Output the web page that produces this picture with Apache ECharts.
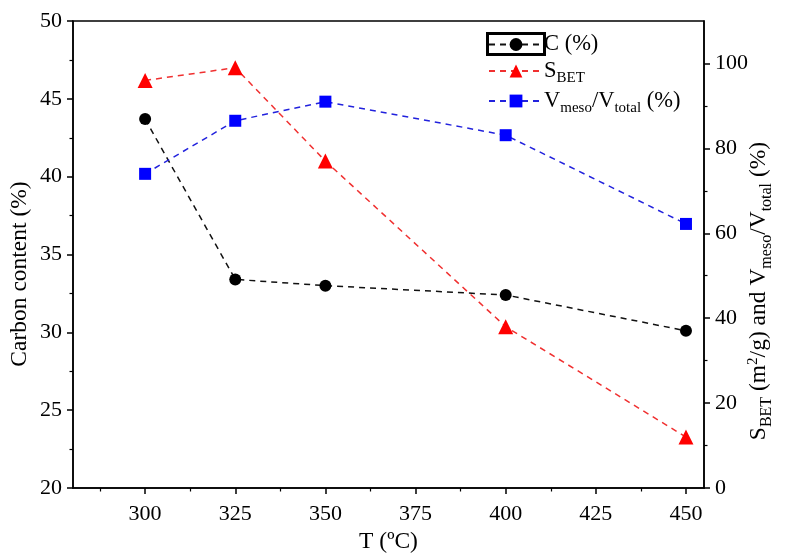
<!DOCTYPE html>
<html>
<head>
<meta charset="utf-8">
<script src="https://cdn.jsdelivr.net/npm/echarts@6/dist/echarts.min.js"></script>
<style>html,body{margin:0;padding:0;background:#fff}#c{width:785px;height:553px}</style>
</head>
<body>
<div id="c"></div>
<script>
const temps = [300, 325, 350, 400, 450];
const carbonContent = [43.7, 33.4, 33.0, 32.4, 30.1];
const sBET = [96, 99, 77, 38, 12];
const vMesoRatio = [74, 86.5, 91, 83.1, 62.2];
const xMajorTicks = [300, 325, 350, 375, 400, 425, 450];
const xMinorTicks = [287.5, 312.5, 337.5, 362.5, 387.5, 412.5, 437.5];
const rightMajorTicks = [0, 20, 40, 60, 80, 100];
const rightMinorTicks = [10, 30, 50, 70, 90];

const FONT = "'Liberation Serif', 'Times New Roman', serif";
const FS = 22;
const TFS = 23.5;
function makeRich(base, sub, lh) {
  return {
    n: {fontFamily: FONT, fontSize: base, color: '#000', lineHeight: lh},
    sub: {fontFamily: FONT, fontSize: sub, color: '#000', lineHeight: lh, padding: [Math.round(base * 0.68), 0, 0, 0]},
    sup: {fontFamily: FONT, fontSize: sub - 1, color: '#000', lineHeight: lh, padding: [0, 0, Math.round(base * 0.5), 0]}
  };
}
const legendRich = makeRich(22.5, 15, 22);
const titleRich = makeRich(TFS, 16, 26);
const pairs = (ys) => temps.map((t, i) => [t, ys[i]]);
const legendText = {
  'C': '{n|C (%)}',
  'SBET': '{n|S}{sub|BET}',
  'Vmeso': '{n|V}{sub|meso}{n|/V}{sub|total}{n| (%)}'
};
const axisLine = {show: true, lineStyle: {color: '#000', width: 1.5}};
const labelStyle = {fontFamily: FONT, fontSize: FS, color: '#000'};

const chart = echarts.init(document.getElementById('c'), null, {renderer: 'canvas'});
chart.setOption({
  backgroundColor: '#fff',
  animation: false,
  grid: {left: 73, right: 81, top: 21, bottom: 65, outerBoundsMode: 'none', containLabel: false,
    show: true, borderColor: '#000', borderWidth: 1.5, backgroundColor: 'transparent'},
  legend: {
    orient: 'vertical', left: 483, top: 28, itemWidth: 54, itemHeight: 16, itemGap: 0,
    data: ['C', 'SBET', 'Vmeso'],
    formatter: (name) => legendText[name],
    textStyle: {rich: legendRich, padding: [0, 0, 0, -4]}
  },
  xAxis: [{
    type: 'value', min: 280, max: 455, position: 'bottom',
    name: 'T (ºC)', nameLocation: 'middle', nameGap: 29,
    nameTextStyle: {fontFamily: FONT, fontSize: TFS, color: '#000'},
    axisLine: axisLine,
    axisTick: {show: true, inside: false, length: 6, lineStyle: {color: '#000', width: 1.5}, customValues: xMajorTicks},
    axisLabel: Object.assign({margin: 15, customValues: xMajorTicks}, labelStyle),
    splitLine: {show: false}
  }, {
    type: 'value', min: 280, max: 455, position: 'bottom', offset: 0,
    axisLine: {show: false},
    axisTick: {show: true, length: 3.5, lineStyle: {color: '#000', width: 1.2}, customValues: xMinorTicks},
    axisLabel: {show: false}, splitLine: {show: false}
  }],
  yAxis: [{
    type: 'value', min: 20, max: 50, interval: 5, position: 'left',
    axisLine: axisLine,
    axisTick: {show: true, length: 6, lineStyle: {color: '#000', width: 1.5}},
    minorTick: {show: true, splitNumber: 2, length: 3.5, lineStyle: {color: '#000', width: 1.2}},
    axisLabel: Object.assign({margin: 11}, labelStyle),
    splitLine: {show: false}, minorSplitLine: {show: false}
  }, {
    type: 'value', min: 0, max: 110, position: 'right',
    axisLine: axisLine,
    axisTick: {show: true, length: 6, lineStyle: {color: '#000', width: 1.5}, customValues: rightMajorTicks},
    axisLabel: Object.assign({margin: 11, customValues: rightMajorTicks}, labelStyle),
    splitLine: {show: false}
  }, {
    type: 'value', min: 0, max: 110, position: 'right', offset: 0,
    axisLine: {show: false},
    axisTick: {show: true, length: 3.5, lineStyle: {color: '#000', width: 1.2}, customValues: rightMinorTicks},
    axisLabel: {show: false}, splitLine: {show: false}
  }],
  series: [{
    name: 'C', type: 'line', xAxisIndex: 0, yAxisIndex: 0, data: pairs(carbonContent),
    symbol: 'circle', symbolSize: 12,
    itemStyle: {color: '#000'},
    lineStyle: {color: '#111', width: 1.5, type: [6, 5]}
  }, {
    name: 'SBET', type: 'line', xAxisIndex: 0, yAxisIndex: 1, data: pairs(sBET),
    symbol: 'triangle', symbolSize: 15,
    itemStyle: {color: '#ff0000'},
    lineStyle: {color: '#f03030', width: 1.5, type: [6, 5]}
  }, {
    name: 'Vmeso', type: 'line', xAxisIndex: 0, yAxisIndex: 1, data: pairs(vMesoRatio),
    symbol: 'rect', symbolSize: 12,
    itemStyle: {color: '#0000ff'},
    lineStyle: {color: '#2222dd', width: 1.5, type: [6, 5]}
  }],
  graphic: [{
    type: 'rect', left: 485, top: 31, shape: {width: 57, height: 21},
    style: {fill: 'none', stroke: '#000', lineWidth: 3}, z: 100
  }, {
    type: 'text', x: 20, y: 274, rotation: Math.PI / 2,
    style: {text: 'Carbon content (%)', fontFamily: FONT, fontSize: TFS, fill: '#000', align: 'center', verticalAlign: 'middle'}
  }, {
    type: 'text', x: 759, y: 291, rotation: Math.PI / 2,
    style: {
      text: '{n|S}{sub|BET}{n| (m}{sup|2}{n|/g) and V}{sub|meso}{n|/V}{sub|total}{n| (%)}',
      rich: titleRich, align: 'center', verticalAlign: 'middle'
    }
  }]
});
</script>
</body>
</html>
